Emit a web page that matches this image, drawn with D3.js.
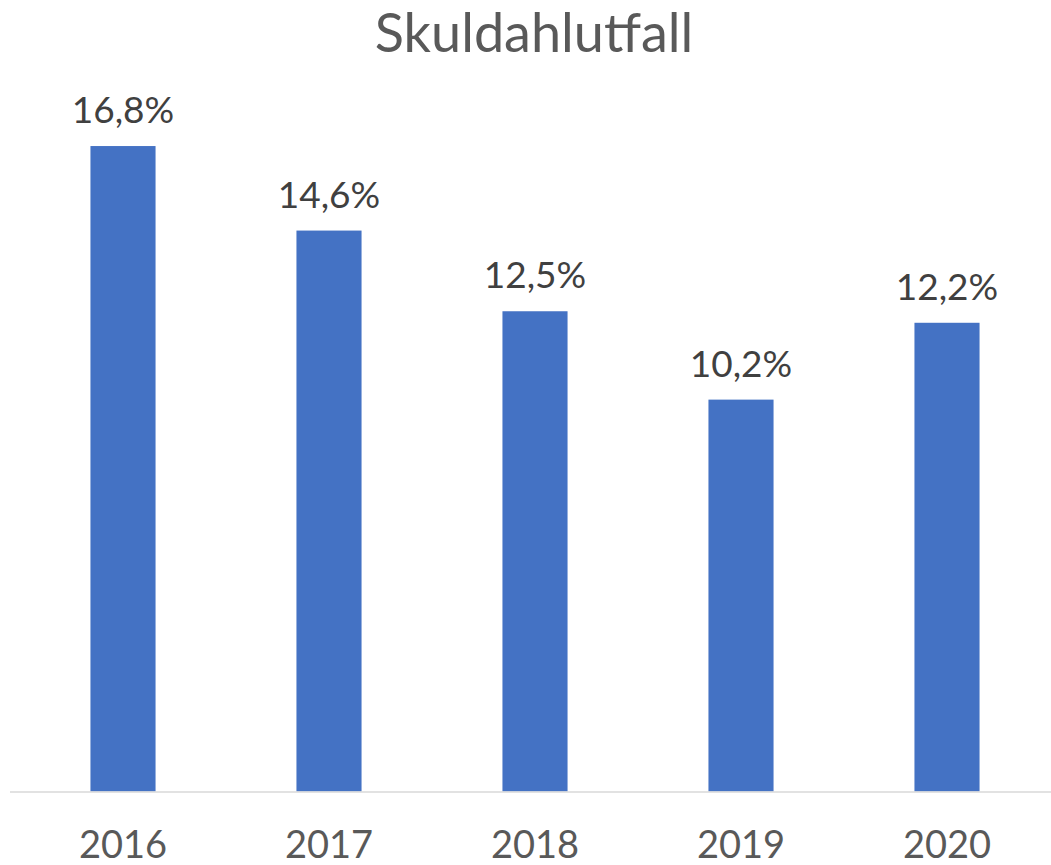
<!DOCTYPE html>
<html>
<head>
<meta charset="utf-8">
<script src="https://cdn.jsdelivr.net/npm/d3@7"></script>
<style>
  body { margin: 0; background: #fff; }
  svg { display: block; }
</style>
</head>
<body>
<div id="chart"></div>
<script>
// data
var years = ["2016", "2017", "2018", "2019", "2020"];
var values = [16.8, 14.6, 12.5, 10.2, 12.2];
var title = "Skuldahlutfall";

var W = 1051, H = 865;
var baseY = 791.5;

var svg = d3.select("#chart").append("svg")
  .attr("width", W)
  .attr("height", H);

// scales
var x = d3.scaleBand()
  .domain(years)
  .range([20, 1050])
  .paddingInner(0.684)
  .paddingOuter(0.342);

var y = d3.scaleLinear()
  .domain([0, 18])
  .range([baseY, baseY - 18 * 38.42]);

// bars
svg.selectAll("rect.bar")
  .data(values)
  .enter()
  .append("rect")
    .attr("class", "bar")
    .attr("x", function(d, i) { return x(years[i]); })
    .attr("y", function(d) { return y(d); })
    .attr("width", x.bandwidth())
    .attr("height", function(d) { return y(0) - y(d); })
    .attr("fill", "#4472C4");

// baseline
svg.append("line")
  .attr("x1", 10)
  .attr("x2", W)
  .attr("y1", y(0) + 0.5)
  .attr("y2", y(0) + 0.5)
  .attr("stroke", "#d9d9d9")
  .attr("stroke-width", 1.5);

// x axis labels
var xAxis = svg.append("g")
  .attr("transform", "translate(0," + y(0) + ")")
  .call(d3.axisBottom(x).tickSize(0));
xAxis.select(".domain").remove();
xAxis.selectAll("text")
  .attr("y", 66.5)
  .attr("dy", 0)
  .attr("fill", "#595959")
  .style("font-family", "Lato, 'Open Sans', sans-serif")
  .style("font-size", "38px");

// value labels
svg.selectAll("text.lbl")
  .data(values)
  .enter()
  .append("text")
    .attr("class", "lbl")
    .attr("x", function(d, i) { return x(years[i]) + x.bandwidth() / 2; })
    .attr("y", function(d) { return y(d) - 23; })
    .attr("text-anchor", "middle")
    .attr("fill", "#404040")
    .style("font-family", "Lato, 'Open Sans', sans-serif")
    .style("font-size", "37px")
    .text(function(d) { return d.toFixed(1).replace(".", ",") + "%"; });

// title
svg.append("text")
  .attr("x", 534)
  .attr("y", 52)
  .attr("text-anchor", "middle")
  .attr("fill", "#595959")
  .style("font-family", "Lato, 'Open Sans', sans-serif")
  .style("font-size", "54px")
  .text(title);
</script>
</body>
</html>
